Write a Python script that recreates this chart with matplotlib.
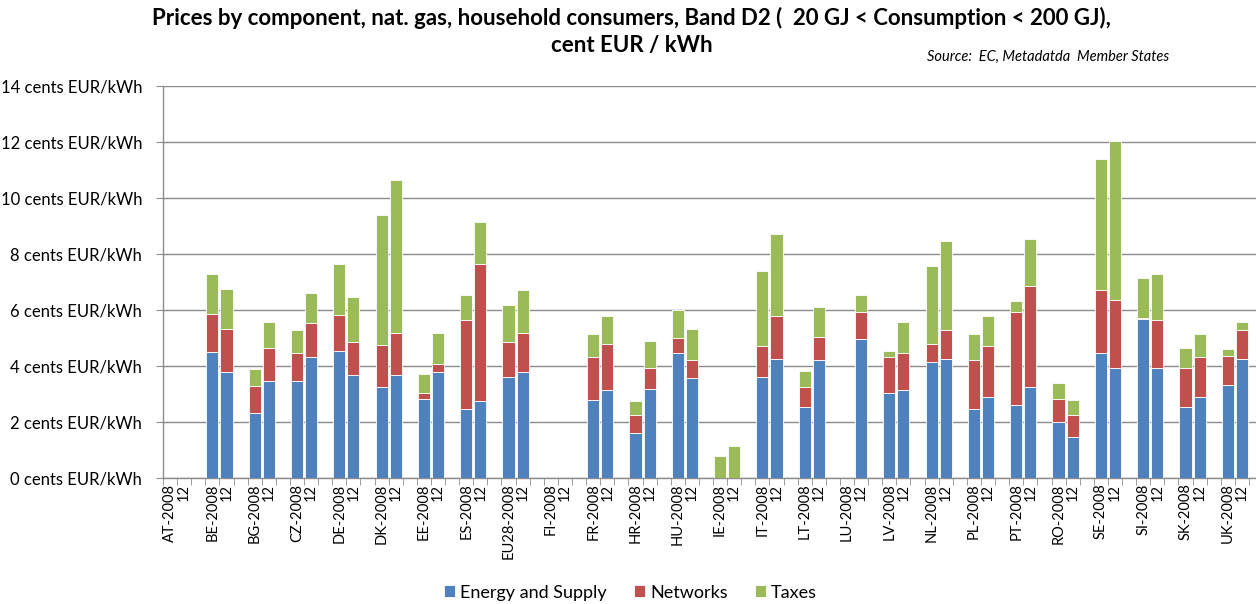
import matplotlib
matplotlib.use("Agg")
import matplotlib.pyplot as plt
from matplotlib.ticker import FixedLocator, NullFormatter

plt.rcParams['font.family'] = ['Lato', 'DejaVu Sans']

countries = ['AT', 'BE', 'BG', 'CZ', 'DE', 'DK', 'EE', 'ES', 'EU28', 'FI', 'FR', 'HR', 'HU',
             'IE', 'IT', 'LT', 'LU', 'LV', 'NL', 'PL', 'PT', 'RO', 'SE', 'SI', 'SK', 'UK']

# two bars per country: 2008 then 2012
energy = [0, 0, 4.50, 3.77, 2.31, 3.48, 3.48, 4.31, 4.55, 3.68, 3.24, 3.68, 2.83, 3.77,
          2.45, 2.74, 3.62, 3.77, 0, 0, 2.80, 3.13, 1.62, 3.18, 4.45, 3.57,
          0, 0, 3.62, 4.25, 2.54, 4.21, 0, 4.95, 3.04, 3.13, 4.15, 4.25,
          2.45, 2.88, 2.60, 3.24, 2.01, 1.48, 4.45, 3.92, 5.68, 3.92, 2.54, 2.88, 3.32, 4.25]
networks = [0, 0, 1.37, 1.56, 0.98, 1.17, 0.97, 1.23, 1.27, 1.17, 1.51, 1.50, 0.21, 0.29,
            3.18, 4.89, 1.23, 1.42, 0, 0, 1.51, 1.67, 0.64, 0.74, 0.55, 0.64,
            0, 0, 1.08, 1.52, 0.70, 0.84, 0, 0.98, 1.27, 1.32, 0.65, 1.04,
            1.76, 1.82, 3.33, 3.61, 0.82, 0.78, 2.25, 2.45, 0.02, 1.71, 1.38, 1.43, 1.04, 1.02]
taxes = [0, 0, 1.42, 1.41, 0.61, 0.92, 0.84, 1.06, 1.81, 1.60, 4.63, 5.47, 0.67, 1.12,
         0.92, 1.51, 1.32, 1.51, 0, 0, 0.82, 0.97, 0.48, 0.97, 1.01, 1.12,
         0.79, 1.13, 2.68, 2.94, 0.58, 1.06, 0, 0.62, 0.24, 1.12, 2.77, 3.16,
         0.92, 1.07, 0.38, 1.70, 0.55, 0.53, 4.68, 5.65, 1.45, 1.66, 0.73, 0.82, 0.25, 0.30]

yticks = [0, 2, 4, 6, 8, 10, 12, 14]

blue = '#4F81BD'
red = '#C0504D'
green = '#9BBB59'

# slot positions, one empty slot after each country
xpos = []
for i in range(len(countries)):
    xpos += [3 * i, 3 * i + 1]
labels = []
for c in countries:
    labels += [c + '-2008', '12']

bottom2 = [e + n for e, n in zip(energy, networks)]

fig = plt.figure(figsize=(12.56, 6.04), dpi=100)
ax = fig.add_axes([0.1298, 0.2086, 0.8702, 0.649])

w = 0.86
ax.bar(xpos, energy, w, color=blue, edgecolor='white', linewidth=0.6, label='Energy and Supply', zorder=3)
ax.bar(xpos, networks, w, bottom=energy, color=red, edgecolor='white', linewidth=0.6, label='Networks', zorder=3)
ax.bar(xpos, taxes, w, bottom=bottom2, color=green, edgecolor='white', linewidth=0.6, label='Taxes', zorder=3)

ax.set_ylim(0, 14)
ax.set_xlim(-0.5, 77.0)
ax.set_yticks(yticks)
ax.set_yticklabels([f'{v} cents EUR/kWh' for v in yticks], fontsize=12)
ax.yaxis.grid(True, color='#8c8c8c', linewidth=1.0, zorder=0)

ax.set_xticks(xpos)
ax.set_xticklabels(labels, rotation=90, fontsize=10.5)
ax.tick_params(axis='x', length=0, pad=4)
ax.xaxis.set_minor_locator(FixedLocator([k - 0.5 for k in range(78)]))
ax.xaxis.set_minor_formatter(NullFormatter())
ax.tick_params(axis='x', which='minor', length=5, color='#8c8c8c')
ax.tick_params(axis='y', length=5, color='#8c8c8c', pad=10)

for s in ['top', 'right']:
    ax.spines[s].set_visible(False)
for s in ['left', 'bottom']:
    ax.spines[s].set_color('#8c8c8c')
    ax.spines[s].set_linewidth(1.0)

fig.text(0.503, 0.971, 'Prices by component, nat. gas, household consumers, Band D2 (  20 GJ < Consumption < 200 GJ),',
         ha='center', va='center', fontsize=16, fontweight='bold')
fig.text(0.503, 0.924, 'cent EUR / kWh', ha='center', va='center', fontsize=16, fontweight='bold')
fig.text(0.738, 0.905, 'Source:  EC, Metadatda  Member States', ha='left', va='center',
         fontsize=10.5, style='italic')

fig.legend(loc='center', bbox_to_anchor=(0.502, 0.019), ncol=3, frameon=False, fontsize=13,
           handlelength=0.6, handleheight=0.6, handletextpad=0.3, columnspacing=1.5)

fig.savefig('out.png', dpi=100)
